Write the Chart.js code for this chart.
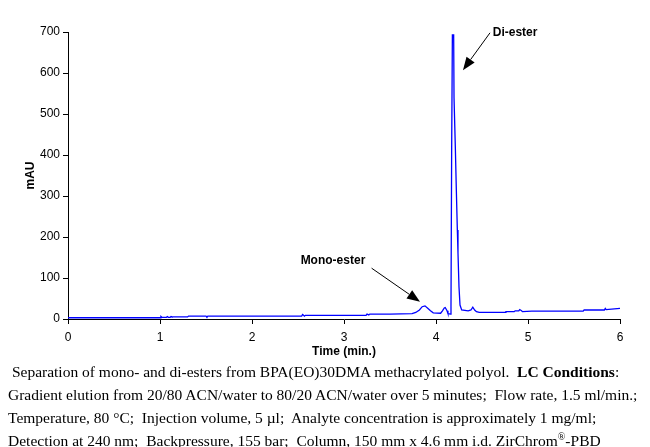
<!DOCTYPE html>
<html>
<head>
<meta charset="utf-8">
<script src="https://cdn.jsdelivr.net/npm/chart.js@4.4.1/dist/chart.umd.min.js"></script>
<style>
  html, body { margin: 0; padding: 0; background: #fff; }
  #wrap { position: relative; width: 650px; height: 447px; overflow: hidden; }
  #box { position: absolute; left: 0; top: 0; width: 650px; height: 365px; }
  #caption {
    position: absolute; left: 8px; top: 360px;
    font-family: "Liberation Serif", "Times New Roman", serif;
    font-size: 15.5px; line-height: 23px; color: #000; white-space: pre;
  }
</style>
</head>
<body>
<div id="wrap">
  <div id="box"><canvas id="chromChart"></canvas></div>
  <div id="caption"> Separation of mono- and di-esters from BPA(EO)30DMA methacrylated polyol.  <b>LC Conditions</b>:
Gradient elution from 20/80 ACN/water to 80/20 ACN/water over 5 minutes;  Flow rate, 1.5 ml/min.;
Temperature, 80 °C;  Injection volume, 5 µl;  Analyte concentration is approximately 1 mg/ml;
Detection at 240 nm;  Backpressure, 155 bar;  Column, 150 mm x 4.6 mm i.d. ZirChrom<sup style="font-size:10px; line-height:0">®</sup>-PBD</div>
</div>
<script>
// retention time (min.) and detector signal (mAU)
const times = [
  0, 0.5, 1.0, 1.01, 1.02, 1.07, 1.08, 1.09, 1.11, 1.12, 1.13, 1.3, 1.31, 1.5, 1.51, 1.52,
  2.54, 2.55, 2.56, 2.57, 2.58, 3.24, 3.25, 3.27, 3.28, 3.5, 3.74, 3.78, 3.82, 3.85, 3.88,
  3.91, 3.94, 3.97, 4.05, 4.07, 4.09, 4.10, 4.12, 4.13, 4.16, 4.163, 4.17, 4.178, 4.192,
  4.196, 4.21, 4.221, 4.232, 4.239, 4.25, 4.261, 4.279, 4.35, 4.38, 4.40, 4.42, 4.44, 4.47,
  4.75, 4.76, 4.85, 4.86, 4.90, 4.91, 4.93, 4.94, 5.04, 5.6, 5.61, 5.83, 5.84, 5.85, 6.0
];
const mau = [
  3, 3, 3, 6, 4, 4, 6, 4, 4, 6, 5, 5, 7, 7, 5, 7,
  7, 11, 9, 7, 9, 9, 12, 10, 12, 12, 13, 16, 22, 30, 32,
  26, 20, 15, 14, 20, 27, 28, 20, 13, 12, 30, 405, 693, 693,
  539, 420, 315, 217, 161, 78, 34, 22, 20, 22, 29, 22, 18, 16,
  16, 18, 18, 20, 20, 23, 20, 18, 19, 19, 22, 22, 26, 23, 26
];
const yTicks = [0, 100, 200, 300, 400, 500, 600, 700];
const xTicks = [0, 1, 2, 3, 4, 5, 6];

// annotations: label, text anchor, arrow tail and tip (data units)
const noteLabels = ['Di-ester', 'Mono-ester'];
const noteText = [[4.86, 698], [2.88, 142]];
const noteTail = [[4.587, 698], [3.30, 124]];
const noteTip = [[4.293, 607], [3.826, 42]];

const points = times.map((t, i) => ({ x: t, y: mau[i] }));

const arrowNotes = {
  id: 'arrowNotes',
  afterDatasetsDraw(chart) {
    const { ctx, scales: { x, y } } = chart;
    ctx.save();
    ctx.fillStyle = '#000';
    ctx.strokeStyle = '#000';
    ctx.lineWidth = 1;
    ctx.font = 'bold 12px "Liberation Sans", Arial, sans-serif';
    ctx.textAlign = 'center';
    ctx.textBaseline = 'middle';
    noteLabels.forEach((label, i) => {
      ctx.fillText(label, x.getPixelForValue(noteText[i][0]), y.getPixelForValue(noteText[i][1]));
      const x0 = x.getPixelForValue(noteTail[i][0]), y0 = y.getPixelForValue(noteTail[i][1]);
      const x1 = x.getPixelForValue(noteTip[i][0]), y1 = y.getPixelForValue(noteTip[i][1]);
      const ang = Math.atan2(y1 - y0, x1 - x0);
      const len = 13, half = 5;
      const bx = x1 - len * Math.cos(ang), by = y1 - len * Math.sin(ang);
      ctx.beginPath();
      ctx.moveTo(x0, y0);
      ctx.lineTo(bx, by);
      ctx.stroke();
      ctx.beginPath();
      ctx.moveTo(x1, y1);
      ctx.lineTo(bx + half * Math.sin(ang), by - half * Math.cos(ang));
      ctx.lineTo(bx - half * Math.sin(ang), by + half * Math.cos(ang));
      ctx.closePath();
      ctx.fill();
    });
    ctx.restore();
  }
};

const tickFont = { family: '"Liberation Sans", Arial, sans-serif', size: 12 };
const titleFont = { family: '"Liberation Sans", Arial, sans-serif', size: 12, weight: 'bold' };

new Chart(document.getElementById('chromChart').getContext('2d'), {
  type: 'line',
  data: {
    datasets: [{
      data: points,
      borderColor: '#0000ff',
      borderWidth: 1.3,
      pointRadius: 0,
      tension: 0,
      fill: false
    }]
  },
  options: {
    responsive: true,
    maintainAspectRatio: false,
    animation: false,
    layout: { padding: { top: 32, right: 30, left: 0, bottom: 0 } },
    plugins: { legend: { display: false }, tooltip: { enabled: false } },
    scales: {
      x: {
        type: 'linear',
        min: 0, max: 6,
        afterBuildTicks: (s) => { s.ticks = xTicks.map(v => ({ value: v })); },
        afterFit: (s) => { s.height = 46; },
        border: { color: '#000', width: 1 },
        grid: { drawOnChartArea: false, drawTicks: true, tickLength: 5, color: '#000' },
        ticks: { color: '#000', font: tickFont, padding: 6, maxRotation: 0 },
        title: { display: true, text: 'Time (min.)', color: '#000', font: titleFont, padding: { top: 0, bottom: 6 } }
      },
      y: {
        min: 0, max: 700,
        afterBuildTicks: (s) => { s.ticks = yTicks.map(v => ({ value: v })); },
        afterFit: (s) => { s.width = 68; },
        border: { color: '#000', width: 1 },
        grid: { drawOnChartArea: false, drawTicks: true, tickLength: 5, color: '#000' },
        ticks: { color: '#000', font: tickFont, padding: 3 },
        title: { display: true, text: 'mAU', color: '#000', font: titleFont, padding: { top: 23, bottom: 0 } }
      }
    }
  },
  plugins: [arrowNotes]
});
</script>
</body>
</html>
